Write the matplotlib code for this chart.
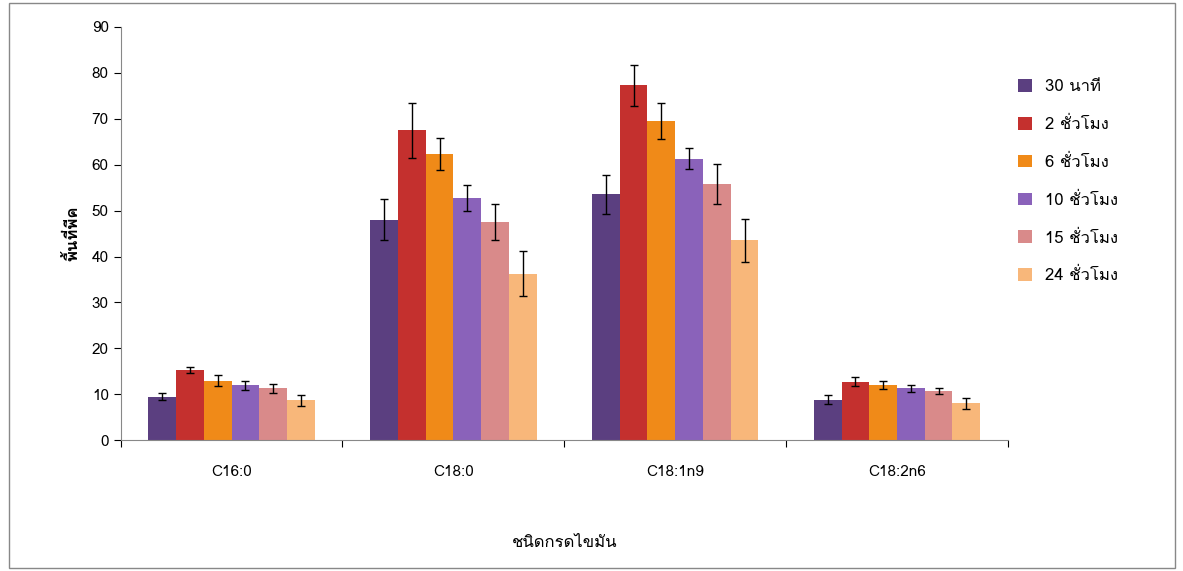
import numpy as np
import matplotlib.pyplot as plt
from matplotlib import font_manager

thai = [f.name for f in font_manager.fontManager.ttflist if 'Thai' in f.name or 'Loma' in f.name or 'Garuda' in f.name]
plt.rcParams['font.family'] = thai[:1] + ['DejaVu Sans']

categories = ["C16:0", "C18:0", "C18:1n9", "C18:2n6"]
series = ["30 นาที", "2 ชั่วโมง", "6 ชั่วโมง", "10 ชั่วโมง", "15 ชั่วโมง", "24 ชั่วโมง"]
values = [
    [9.5, 48.0, 53.5, 8.8],
    [15.3, 67.5, 77.3, 12.7],
    [13.0, 62.3, 69.5, 12.0],
    [12.0, 52.7, 61.3, 11.3],
    [11.3, 47.5, 55.8, 10.7],
    [8.7, 36.3, 43.5, 8.0],
]
errors = [
    [0.7, 4.5, 4.3, 1.0],
    [0.7, 6.0, 4.5, 1.0],
    [1.2, 3.5, 4.0, 0.8],
    [1.0, 2.8, 2.3, 0.7],
    [1.0, 4.0, 4.3, 0.7],
    [1.2, 4.8, 4.7, 1.2],
]
colors = ["#5B3F80", "#C4302E", "#F08A18", "#8A62BA", "#D98A8A", "#F8B77A"]

fig = plt.figure(figsize=(11.83, 5.71), dpi=100)
ax = fig.add_axes([0.102, 0.229, 0.75, 0.724])
x = np.arange(len(categories))
w = 0.125
for i in range(len(series)):
    ax.bar(x + (i - 2.5) * w, values[i], w, yerr=errors[i], color=colors[i],
           edgecolor='none', capsize=3, error_kw=dict(elinewidth=1, ecolor='black'),
           label=series[i])

ax.set_ylim(0, 90)
ax.set_xlim(-0.5, 3.5)
ax.set_yticks(range(0, 91, 10))
ax.set_xticks(np.arange(-0.5, 4, 1), minor=False, labels=[])
ax.set_xticks(x, minor=True, labels=categories)
ax.tick_params(axis='x', which='minor', length=0, pad=18, labelsize=11)
ax.tick_params(axis='x', which='major', length=5, direction='out')
ax.tick_params(axis='y', labelsize=11, length=5)
for s in ['top', 'right']:
    ax.spines[s].set_visible(False)
ax.spines['left'].set_color('#888888')
ax.spines['bottom'].set_color('#888888')
ax.set_ylabel("พื้นที่พีค", fontsize=12, fontweight='bold', labelpad=8)
ax.set_xlabel("ชนิดกรดไขมัน", fontsize=12, labelpad=40)

ax.legend(loc='upper left', bbox_to_anchor=(0.995, 0.91), frameon=False,
          fontsize=12, handlelength=0.8, handleheight=0.8, labelspacing=1.3)

fig.patches.append(plt.Rectangle((0.008, 0.005), 0.985, 0.99, transform=fig.transFigure,
                                 fill=False, edgecolor='#888888', linewidth=1))
fig.savefig("out.png")
